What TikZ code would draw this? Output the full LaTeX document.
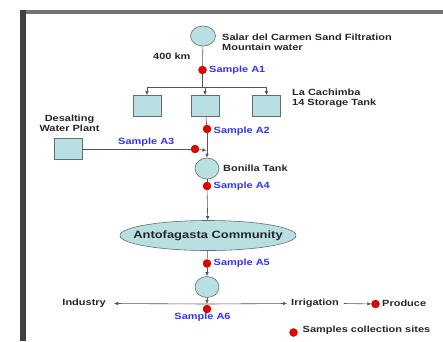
\documentclass[tikz,border=0pt]{standalone}
\usepackage{fontspec}
\setmainfont{Liberation Sans}[FakeStretch=1.22]
\usetikzlibrary{arrows.meta,shapes.geometric}
\definecolor{tankfill}{RGB}{184,223,226}
\definecolor{tankedge}{RGB}{100,110,112}
\definecolor{sampleblue}{RGB}{50,50,245}
\definecolor{dotred}{RGB}{235,0,0}
\definecolor{linegray}{RGB}{85,85,85}
\begin{document}
\begin{tikzpicture}[x=1pt,y=-1pt,
  lbl/.style={font=\bfseries\fontsize{9}{10}\selectfont, text=black!85, inner sep=0pt},
  slbl/.style={font=\bfseries\fontsize{9}{10}\selectfont, text=sampleblue, inner sep=0pt, anchor=west},
  sdot/.style={circle, fill=dotred, draw=dotred!70!black, line width=0.3pt, minimum size=8pt, inner sep=0pt},
  tank/.style={ellipse, fill=tankfill, draw=tankedge, line width=0.6pt, minimum width=24pt, minimum height=21pt, inner sep=0pt},
  store/.style={rectangle, fill=tankfill, draw=tankedge, line width=0.6pt, minimum width=28pt, minimum height=21pt, inner sep=0pt},
  conn/.style={draw=linegray, line width=0.6pt},
  arr/.style={conn, -{Latex[length=4pt,width=3.5pt]}}
]
\useasboundingbox (0,0) rectangle (443,341);
% frame
\draw[line width=4pt, black!55] (20,12) -- (443,12);
\draw[line width=5.5pt, black!75] (23,10) -- (23,341);

% nodes
\node[tank, minimum width=25pt, minimum height=20pt] (src) at (203,36) {};
\node[lbl, anchor=west, align=left] (srclbl) at (222,42) {Salar del Carmen Sand Filtration\\Mountain water};
\node[lbl, anchor=west] (km) at (153,56) {400 km};
\node[sdot] (a1) at (202.5,70) {};
\node[slbl] (a1l) at (209,70.5) {Sample A1};
\coordinate (br) at (202.5,87);
\coordinate (brl) at (147,87);
\coordinate (brm) at (205,87);
\coordinate (brr) at (266.5,87);
\node[store] (b1) at (147,106) {};
\node[store] (b2) at (205,106) {};
\node[store] (b3) at (266.5,106) {};
\node[lbl, anchor=west, align=left] (cachl) at (292,98.5) {La Cachimba\\14 Storage Tank};
\node[sdot] (a2) at (207,129) {};
\node[slbl] (a2l) at (213.5,131) {Sample A2};
\node[lbl, align=center] (desl) at (69.5,123.5) {Desalting\\Water Plant};
\node[store] (des) at (68,149) {};
\node[sdot] (a3) at (195,149) {};
\node[slbl] (a3l) at (118,142) {Sample A3};
\coordinate (j3) at (206.4,150.5);
\node[tank] (bon) at (207,168.5) {};
\node[lbl, anchor=west] (bonl) at (223,168.5) {Bonilla Tank};
\node[sdot] (a4) at (207,186) {};
\node[slbl] (a4l) at (213.5,186.5) {Sample A4};
\node[ellipse, fill=tankfill, draw=tankedge, line width=0.6pt, minimum width=176pt, minimum height=30pt, inner sep=0pt,
      label={[font=\bfseries\fontsize{10.6}{12}\selectfont, text=black!85, inner sep=0pt]center:Antofagasta Community}] (anto) at (208,235.5) {};
\node[sdot] (a5) at (207,263.5) {};
\node[slbl] (a5l) at (213.5,263.5) {Sample A5};
\node[tank] (dist) at (207,287) {};
\coordinate (hj) at (207,304);
\node[lbl, anchor=east] (ind) at (106,303.5) {Industry};
\node[lbl, anchor=west] (irr) at (291,303.5) {Irrigation};
\node[sdot] (prd) at (375.5,304) {};
\node[lbl, anchor=west] (prdl) at (382,303.5) {Produce};

% connectors
\draw[conn] (src) -- (a1) -- (br);
\draw[conn] (brl) -- (brr);
\draw[arr] (brl) -- (b1);
\draw[arr] (brm) -- (b2);
\draw[arr] (brr) -- (b3);
\draw[conn] (b2) -- (a2);
\draw[arr] (a2) -- (bon);
\draw[conn] (des) -- (a3);
\draw[arr] (a3) -- (j3);
\draw[conn] (bon) -- (a4);
\draw[arr] (a4) -- (anto);
\draw[conn] (anto) -- (a5);
\draw[arr] (a5) -- (dist);
\draw[arr] (dist) -- (hj);
\draw[arr] (hj) -- ([xshift=8pt]ind.east);
\draw[arr] (hj) -- ([xshift=-4pt]irr.west);
\draw[arr] ([xshift=5pt]irr.east) -- (prd);

% A6 on top of line
\node[sdot] (a6) at (207,309) {};
\node[slbl, anchor=center] (a6l) at (202.5,317.5) {Sample A6};

% legend
\node[sdot] (legdot) at (293.5,332.5) {};
\node[lbl, anchor=west] (legl) at (302.5,330) {Samples collection sites};
\end{tikzpicture}
\end{document}
